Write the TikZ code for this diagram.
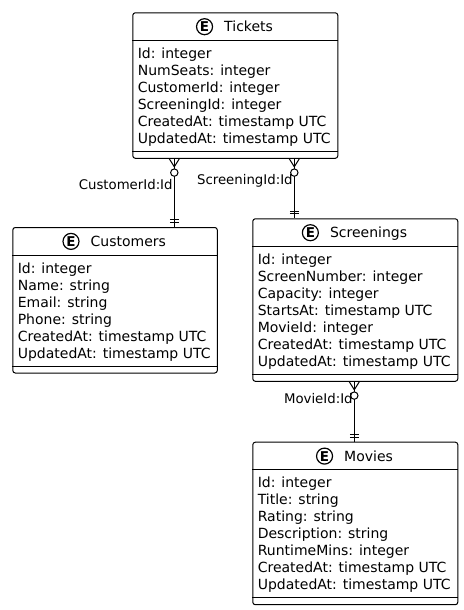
\documentclass[tikz,border=0pt]{standalone}
\usepackage{fontspec}
\setmainfont{DejaVu Sans}
\usetikzlibrary{calc}
\tikzset{
 ebox/.style={draw, line width=1pt, rounded corners=2.5pt, inner sep=0pt, anchor=north west},
 attr/.style={anchor=base west, inner sep=0pt, font=\fontsize{14}{17}\selectfont},
 etitle/.style={anchor=base, inner sep=0pt, font=\fontsize{14}{17}\selectfont},
 ecirc/.style={circle, draw, line width=1.2pt, minimum size=16pt, inner sep=0pt, font=\fontsize{13.5}{13.5}\selectfont\bfseries},
 rlabel/.style={anchor=base east, inner sep=0pt, font=\fontsize{13.3}{15}\selectfont},
 conn/.style={line width=1pt},
 sep/.style={line width=1pt},
}
\newcommand{\mkentity}[7]{%
 \pgfmathsetmacro{\eH}{43.5+17*#5}
 \node[ebox, minimum width=#4pt, minimum height=\eH pt] (#1) at (#2,#3) {};
 \draw[sep] ($(#1.north west)+(0,28)$) -- ($(#1.north east)+(0,28)$);
 \draw[sep] ($(#1.south west)+(0,-7.5)$) -- ($(#1.south east)+(0,-7.5)$);
 \node[etitle] (#1-t) at ($(#1.north)+(13.3,19.4)$) {#6};
 \node[ecirc] (#1-e) at ($(#1-t.base west)+(-19.5,-5)$) {E};
 \foreach \a [count=\i] in {#7} {
   \node[attr] (#1-a\i) at ($(#1.north west)+(5.3,{46+17*(\i-1)})$) {\a};
 }
}
\newcommand{\relate}[2]{%
 \draw[conn] (#1) -- (#2);
 \draw[conn] ($(#1)+(-5,0)$) -- ($(#1)+(0,8)$) -- ($(#1)+(5,0)$);
 \draw[conn, fill=white] ($(#1)+(0,13.8)$) circle (3.7);
 \draw[conn] ($(#2)+(-4.5,-7.3)$) -- ($(#2)+(4.5,-7.3)$);
 \draw[conn] ($(#2)+(-4.5,-4.5)$) -- ($(#2)+(4.5,-4.5)$);
}
\begin{document}
\begin{tikzpicture}[x=1pt, y=-1pt]
\fill[white] (0,0) rectangle (463,610);
\useasboundingbox (0,0) rectangle (463,610);

\mkentity{tk}{132.3}{12.3}{205}{6}{Tickets}{Id: integer,NumSeats: integer,CustomerId: integer,ScreeningId: integer,CreatedAt: timestamp UTC,UpdatedAt: timestamp UTC}
\mkentity{cu}{12.3}{227}{204.5}{6}{Customers}{Id: integer,Name: string,Email: string,Phone: string,CreatedAt: timestamp UTC,UpdatedAt: timestamp UTC}
\mkentity{sc}{252.3}{218.3}{205}{7}{Screenings}{Id: integer,ScreenNumber: integer,Capacity: integer,StartsAt: timestamp UTC,MovieId: integer,CreatedAt: timestamp UTC,UpdatedAt: timestamp UTC}
\mkentity{mv}{252.3}{441.7}{205}{7}{Movies}{Id: integer,Title: string,Rating: string,Description: string,RuntimeMins: integer,CreatedAt: timestamp UTC,UpdatedAt: timestamp UTC}

\coordinate (r1a) at ($(tk.south west)+(42,0)$);
\coordinate (r1b) at ($(cu.north west)+(162,0)$);
\coordinate (r2a) at ($(tk.south west)+(162,0)$);
\coordinate (r2b) at ($(sc.north west)+(42,0)$);
\coordinate (r3a) at ($(sc.south west)+(102,0)$);
\coordinate (r3b) at ($(mv.north west)+(102,0)$);

\relate{r1a}{r1b}
\relate{r2a}{r2b}
\relate{r3a}{r3b}

\node[rlabel] (l1) at ($(r1a)+(-1.5,30.2)$) {CustomerId:Id};
\node[rlabel] (l2) at ($(r2a)+(-1.5,25.2)$) {ScreeningId:Id};
\node[rlabel] (l3) at ($(r3a)+(-1.5,21.6)$) {MovieId:Id};
\end{tikzpicture}
\end{document}
